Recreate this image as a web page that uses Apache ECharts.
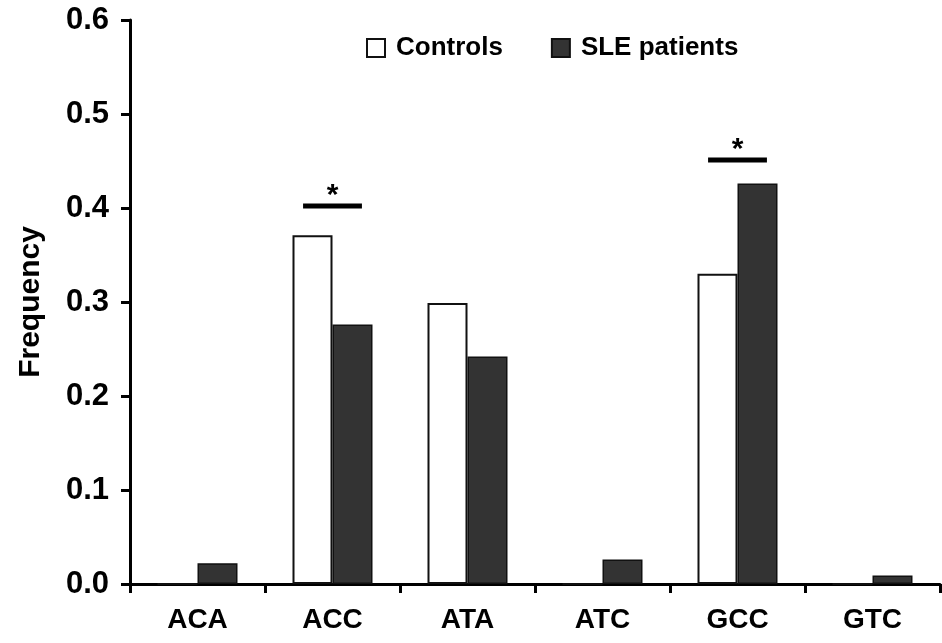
<!DOCTYPE html>
<html>
<head>
<meta charset="utf-8">
<script src="https://cdn.jsdelivr.net/npm/echarts@6/dist/echarts.min.js"></script>
<style>
  html, body { margin: 0; padding: 0; background: #ffffff; }
  #chart { width: 942px; height: 643px; }
</style>
</head>
<body>
<div id="chart"></div>
<script>
// Haplotype frequencies, controls vs SLE patients
const haplotypes = ['ACA', 'ACC', 'ATA', 'ATC', 'GCC', 'GTC'];
const controls = [0, 0.371, 0.299, 0, 0.330, 0];
const slePatients = [0.022, 0.276, 0.242, 0.026, 0.426, 0.009];
const yTicks = [0, 0.1, 0.2, 0.3, 0.4, 0.5, 0.6];
// Significant differences: haplotype and height of the bracket
const sigHaplotypes = ['ACC', 'GCC'];
const sigLevels = [0.402, 0.451];
const sigMarks = ['*', '*'];

const FONT = '"Liberation Sans", Arial, Helvetica, sans-serif';

const chart = echarts.init(document.getElementById('chart'), null, { renderer: 'canvas' });

const option = {
  backgroundColor: '#ffffff',
  animation: false,
  textStyle: { fontFamily: FONT, color: '#000' },
  grid: { left: 130, right: 2, top: 20, bottom: 59, containLabel: false },
  legend: {
    data: ['Controls', 'SLE patients'],
    left: 361,
    top: 30,
    itemWidth: 18,
    itemHeight: 18,
    itemGap: 48,
    icon: 'rect',
    textStyle: { fontFamily: FONT, fontWeight: 'bold', fontSize: 26, color: '#000', padding: [0, 0, 0, 6] }
  },
  xAxis: {
    type: 'category',
    data: haplotypes,
    boundaryGap: true,
    axisLine: { lineStyle: { color: '#000', width: 3 } },
    axisTick: { show: true, length: 9, lineStyle: { color: '#000', width: 3 }, alignWithLabel: false },
    axisLabel: { fontFamily: FONT, fontWeight: 'bold', fontSize: 28, color: '#000', margin: 22 },
    splitLine: { show: false }
  },
  yAxis: {
    type: 'value',
    min: yTicks[0],
    max: yTicks[yTicks.length - 1],
    interval: 0.1,
    name: 'Frequency',
    nameLocation: 'middle',
    nameGap: 84,
    nameTextStyle: { fontFamily: FONT, fontWeight: 'bold', fontSize: 30, color: '#000' },
    axisLine: { show: true, lineStyle: { color: '#000', width: 3 } },
    axisTick: { show: true, length: 9, lineStyle: { color: '#000', width: 3 } },
    axisLabel: {
      fontFamily: FONT, fontWeight: 'bold', fontSize: 31, color: '#000', margin: 21,
      formatter: v => v.toFixed(1)
    },
    splitLine: { show: false }
  },
  series: [
    {
      name: 'Controls',
      type: 'bar',
      data: controls,
      barWidth: 40,
      barGap: '0%',
      itemStyle: { color: '#ffffff', borderColor: '#111', borderWidth: 2 }
    },
    {
      name: 'SLE patients',
      type: 'bar',
      data: slePatients,
      barWidth: 40,
      barGap: '0%',
      itemStyle: { color: '#333333', borderColor: '#111', borderWidth: 1.5 }
    },
    {
      // Significance brackets with asterisks over the bar pairs
      name: 'significance',
      type: 'custom',
      silent: true,
      data: sigHaplotypes.map((h, i) => [h, sigLevels[i], sigMarks[i]]),
      renderItem: function (params, api) {
        const p = api.coord([api.value(0), api.value(1)]);
        const band = api.size([1, 0])[0];
        const half = band * 0.218;
        const mark = sigMarks[params.dataIndex];
        return {
          type: 'group',
          children: [
            {
              type: 'rect',
              shape: { x: p[0] - half, y: p[1] - 2.5, width: half * 2, height: 5 },
              style: { fill: '#000' }
            },
            {
              type: 'text',
              x: p[0],
              y: p[1] + 5,
              style: {
                text: mark,
                fill: '#000',
                font: 'bold 30px ' + FONT,
                textAlign: 'center',
                textVerticalAlign: 'bottom'
              }
            }
          ]
        };
      }
    }
  ]
};

chart.setOption(option);
</script>
</body>
</html>
